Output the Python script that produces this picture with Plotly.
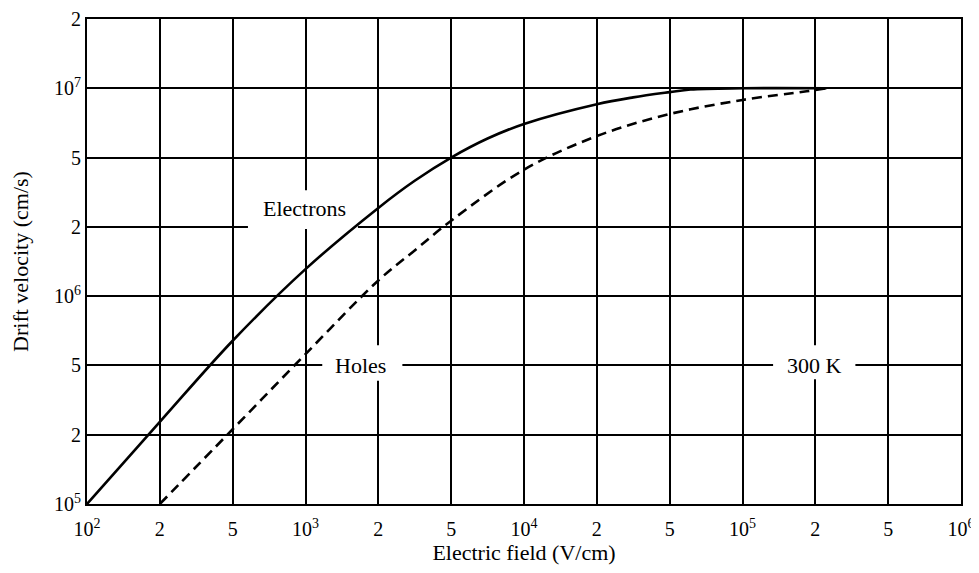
import math
import plotly.graph_objects as go

# ---- data (E in V/cm, v in cm/s) ----
electron_field = [100, 200, 500, 1000, 2000, 3160, 5000, 7070,
                  1.0e4, 2.0e4, 3.16e4, 5.0e4, 6.1e4, 1.0e5, 2.3e5]
electron_velocity = [1.0e5, 2.37e5, 6.4e5, 1.31e6, 2.57e6, 3.68e6, 5.0e6, 6.05e6,
                     7.0e6, 8.53e6, 9.13e6, 9.62e6, 9.88e6, 1.0e7, 1.0e7]

hole_field = [200, 500, 1000, 2000, 3160, 5000, 1.0e4, 2.0e4, 5.0e4,
              1.0e5, 1.84e5, 2.3e5]
hole_velocity = [1.0e5, 2.15e5, 5.6e5, 1.17e6, 1.58e6, 2.17e6, 4.26e6, 6.2e6, 7.73e6,
                 8.9e6, 9.7e6, 1.0e7]

x_tick_values = [1e2, 2e2, 5e2, 1e3, 2e3, 5e3, 1e4, 2e4, 5e4, 1e5, 2e5, 5e5, 1e6]
x_tick_labels = ["10<sup>2</sup>", "2", "5", "10<sup>3</sup>", "2", "5", "10<sup>4</sup>",
                 "2", "5", "10<sup>5</sup>", "2", "5", "10<sup>6</sup>"]
y_tick_values = [1e5, 2e5, 5e5, 1e6, 2e6, 5e6, 1e7, 2e7]
y_tick_labels = ["10<sup>5</sup>", "2", "5", "10<sup>6</sup>", "2", "5", "10<sup>7</sup>", "2"]

X_BASE = 2  # 10^2 at the left edge
Y_BASE = 5  # 10^5 at the bottom edge


def grid_pos(value, base_exp):
    """1-2-5 log paper scale: each of 1-2, 2-5, 5-10 takes one equal step."""
    e = math.floor(math.log10(value) + 1e-9)
    m = value / 10 ** e
    nodes = [1, 2, 5, 10]
    for i in range(3):
        if m <= nodes[i + 1] + 1e-9:
            frac = math.log(m / nodes[i]) / math.log(nodes[i + 1] / nodes[i])
            return 3 * (e - base_exp) + i + frac
    return 3 * (e - base_exp) + 3


def xs(vals):
    return [grid_pos(v, X_BASE) for v in vals]


def ys(vals):
    return [grid_pos(v, Y_BASE) for v in vals]


FONT = "Liberation Serif, Times New Roman, serif"

fig = go.Figure()
fig.add_trace(go.Scatter(x=xs(electron_field), y=ys(electron_velocity), mode="lines",
                         line=dict(color="black", width=2.6, shape="spline", smoothing=1.0),
                         name="Electrons", showlegend=False, hoverinfo="skip"))
fig.add_trace(go.Scatter(x=xs(hole_field), y=ys(hole_velocity), mode="lines",
                         line=dict(color="black", width=2.6, dash="10px,6px",
                                   shape="spline", smoothing=1.0),
                         name="Holes", showlegend=False, hoverinfo="skip"))

# white label boxes that interrupt the grid (between grid and traces)
label_boxes = [
    (2.21, 3.97, 3.72, 4.53),
    (3.23, 1.78, 4.33, 2.29),
    (9.42, 1.80, 10.55, 2.29),
]
for x0, y0, x1, y1 in label_boxes:
    fig.add_shape(type="rect", xref="x", yref="y", x0=x0, y0=y0, x1=x1, y1=y1,
                  fillcolor="white", line=dict(width=0), layer="between")

labels = [("Electrons", 2.98, 4.27), ("Holes", 3.75, 2.0), ("300 K", 9.99, 2.0)]
for text, ax_, ay_ in labels:
    fig.add_annotation(x=ax_, y=ay_, xref="x", yref="y", text=text, showarrow=False,
                       font=dict(family=FONT, size=22, color="black"))

fig.update_xaxes(range=[0, 12], tickmode="array", tickvals=xs(x_tick_values),
                 ticktext=x_tick_labels, showgrid=True, gridcolor="black", gridwidth=1.6,
                 showline=True, linecolor="black", linewidth=2, mirror=True,
                 ticks="", zeroline=False, ticklabeloverflow="allow", automargin=False,
                 ticklabelstandoff=6,
                 tickfont=dict(family=FONT, size=20, color="black"),
                 title=dict(text="Electric field (V/cm)", standoff=25,
                            font=dict(family=FONT, size=22, color="black")))
fig.update_yaxes(range=[0, 7], tickmode="array", tickvals=ys(y_tick_values),
                 ticktext=y_tick_labels, showgrid=True, gridcolor="black", gridwidth=1.6,
                 showline=True, linecolor="black", linewidth=2, mirror=True,
                 ticks="", zeroline=False, ticklabeloverflow="allow", automargin=False,
                 tickfont=dict(family=FONT, size=20, color="black"),
                 title=dict(text="Drift velocity (cm/s)", standoff=20,
                            font=dict(family=FONT, size=22, color="black")))

# the page body adds an 8px offset; the figure reaches the window's right edge
fig.update_layout(width=971, height=557, paper_bgcolor="white", plot_bgcolor="white",
                  margin=dict(l=79, r=18, t=11, b=61))

fig.write_html("out.html")
